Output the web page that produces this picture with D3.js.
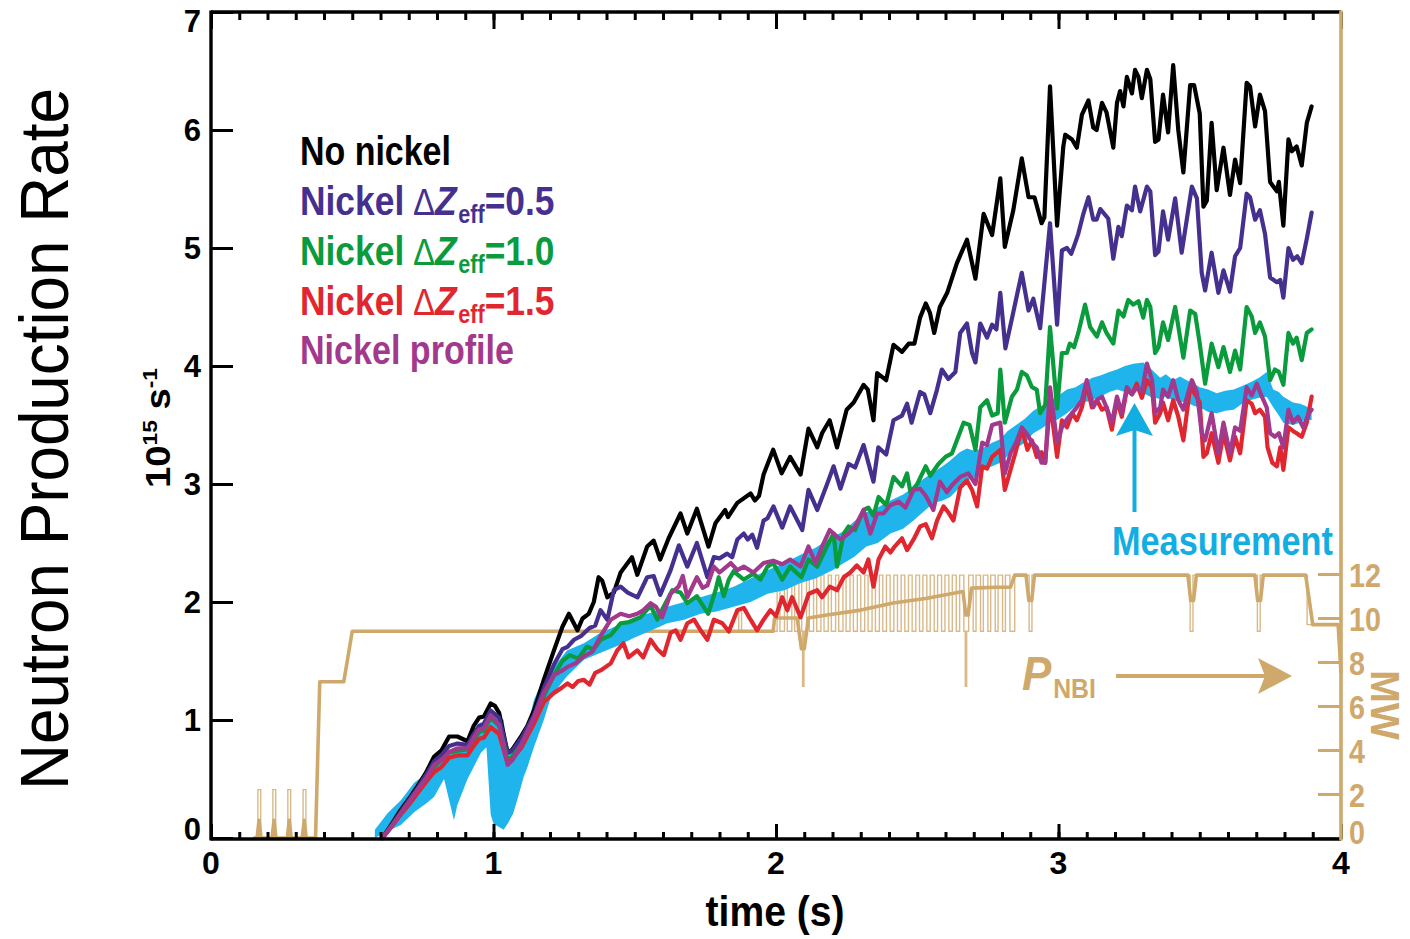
<!DOCTYPE html>
<html>
<head>
<meta charset="utf-8">
<script src="https://cdn.jsdelivr.net/npm/d3@7"></script>
<style>
  html, body { margin: 0; padding: 0; background: #fff; }
  svg { display: block; }
</style>
</head>
<body>
<svg id="chart" width="1410" height="939"></svg>
<script>
// ---------------- data ----------------
const timeTicks = [0, 1, 2, 3, 4];
const rateTicks = [0, 1, 2, 3, 4, 5, 6, 7];
const mwTicks = [0, 2, 4, 6, 8, 10, 12];

const seriesNames = ["No nickel", "Nickel", "Nickel", "Nickel", "Nickel profile"];
const seriesDz = [null, "0.5", "1.0", "1.5", null];

// neutron rate, 10^15 s^-1, [time (s), value]
const noNickel = [[0.607,0.0],[0.64,0.12],[0.672,0.24],[0.70,0.33],[0.731,0.44],[0.76,0.55],[0.79,0.69],[0.815,0.74],[0.843,0.86],[0.872,0.86],[0.908,0.82],[0.93,0.95],[0.949,1.02],[0.966,1.03],[0.99,1.14],[1.005,1.12],[1.02,1.06],[1.05,0.72],[1.067,0.75],[1.10,0.87],[1.12,0.95],[1.143,1.08],[1.178,1.34],[1.214,1.59],[1.244,1.79],[1.267,1.9],[1.297,1.76],[1.315,1.86],[1.337,1.9],[1.355,2.0],[1.372,2.21],[1.385,2.18],[1.403,2.04],[1.426,2.08],[1.45,2.25],[1.49,2.38],[1.509,2.23],[1.544,2.47],[1.567,2.52],[1.59,2.36],[1.62,2.54],[1.662,2.75],[1.686,2.58],[1.72,2.79],[1.761,2.47],[1.786,2.67],[1.82,2.78],[1.83,2.72],[1.863,2.84],[1.91,2.92],[1.925,2.86],[1.94,2.9],[1.956,3.08],[1.99,3.29],[2.02,3.09],[2.05,3.23],[2.087,3.08],[2.115,3.47],[2.146,3.31],[2.163,3.43],[2.19,3.54],[2.216,3.31],[2.25,3.63],[2.275,3.69],[2.31,3.84],[2.325,3.8],[2.345,3.54],[2.358,3.94],[2.39,3.88],[2.416,4.18],[2.446,4.12],[2.47,4.19],[2.49,4.19],[2.51,4.41],[2.53,4.53],[2.545,4.45],[2.56,4.28],[2.58,4.5],[2.606,4.62],[2.64,4.87],[2.676,5.07],[2.706,4.74],[2.735,5.29],[2.765,5.11],[2.794,5.59],[2.81,5.01],[2.84,5.32],[2.87,5.76],[2.894,5.43],[2.915,5.43],[2.94,5.21],[2.95,5.26],[2.97,6.37],[2.995,5.19],[3.017,5.86],[3.024,5.96],[3.048,5.92],[3.065,5.85],[3.083,6.13],[3.106,6.25],[3.123,6.02],[3.135,6.0],[3.154,6.23],[3.17,6.15],[3.194,5.85],[3.207,6.23],[3.218,6.33],[3.23,6.2],[3.242,6.45],[3.26,6.31],[3.271,6.51],[3.283,6.45],[3.295,6.27],[3.313,6.51],[3.325,6.43],[3.342,5.9],[3.354,5.92],[3.37,6.3],[3.388,5.98],[3.406,6.55],[3.424,6.0],[3.442,5.64],[3.466,6.38],[3.48,6.38],[3.5,6.14],[3.513,5.35],[3.525,5.4],[3.542,6.06],[3.56,5.49],[3.584,5.85],[3.607,5.45],[3.625,5.75],[3.643,5.55],[3.666,6.4],[3.678,6.37],[3.696,6.03],[3.713,6.3],[3.731,6.16],[3.749,5.56],[3.773,5.48],[3.78,5.56],[3.796,5.19],[3.814,5.92],[3.826,5.82],[3.843,5.86],[3.861,5.7],[3.879,6.06],[3.896,6.2]];

const nickelDz05 = [[0.607,0.0],[0.64,0.11],[0.672,0.22],[0.70,0.32],[0.731,0.42],[0.76,0.53],[0.79,0.65],[0.815,0.70],[0.843,0.78],[0.872,0.80],[0.908,0.79],[0.93,0.88],[0.949,0.95],[0.966,0.97],[0.99,1.08],[1.02,1.02],[1.05,0.72],[1.067,0.74],[1.10,0.85],[1.143,1.04],[1.178,1.27],[1.214,1.47],[1.244,1.6],[1.262,1.62],[1.285,1.68],[1.309,1.71],[1.34,1.78],[1.36,1.8],[1.379,1.93],[1.403,1.85],[1.426,2.1],[1.45,2.13],[1.475,2.08],[1.51,2.04],[1.544,2.21],[1.567,2.22],[1.59,2.06],[1.627,2.27],[1.656,2.48],[1.686,2.3],[1.72,2.5],[1.757,2.21],[1.78,2.38],[1.80,2.37],[1.827,2.41],[1.845,2.38],[1.863,2.53],[1.886,2.58],[1.90,2.53],[1.916,2.57],[1.933,2.46],[1.956,2.69],[1.97,2.71],[1.991,2.81],[2.022,2.63],[2.05,2.81],[2.093,2.61],[2.115,2.95],[2.146,2.78],[2.181,3.0],[2.204,3.15],[2.228,2.96],[2.257,3.17],[2.28,3.14],[2.31,3.33],[2.345,3.02],[2.362,3.31],[2.39,3.25],[2.416,3.54],[2.446,3.58],[2.464,3.68],[2.48,3.52],[2.51,3.78],[2.525,3.76],[2.546,3.6],[2.57,3.8],[2.587,3.97],[2.61,3.89],[2.635,3.95],[2.652,4.28],[2.676,4.36],[2.694,4.11],[2.706,4.03],[2.723,4.36],[2.747,4.24],[2.765,4.35],[2.78,4.31],[2.794,4.62],[2.812,4.15],[2.835,4.4],[2.87,4.79],[2.894,4.47],[2.911,4.57],[2.935,4.32],[2.97,5.21],[2.995,4.35],[3.012,4.98],[3.03,5.0],[3.045,4.95],[3.06,5.05],[3.07,5.12],[3.088,5.29],[3.106,5.43],[3.123,5.24],[3.135,5.24],[3.148,5.33],[3.176,5.25],[3.194,4.91],[3.212,5.18],[3.224,5.1],[3.242,5.36],[3.26,5.32],[3.271,5.52],[3.289,5.31],[3.313,5.52],[3.325,5.48],[3.342,4.94],[3.354,4.97],[3.37,5.31],[3.388,5.07],[3.413,5.42],[3.436,4.96],[3.472,5.52],[3.49,5.42],[3.507,4.79],[3.519,4.64],[3.542,4.96],[3.566,4.62],[3.584,4.81],[3.607,4.63],[3.625,4.93],[3.643,5.0],[3.666,5.46],[3.678,5.43],[3.696,5.24],[3.713,5.32],[3.731,5.12],[3.749,4.75],[3.773,4.71],[3.785,4.73],[3.796,4.58],[3.814,5.0],[3.83,4.9],[3.845,4.93],[3.861,4.87],[3.879,5.08],[3.896,5.3]];

const nickelDz10 = [[0.607,0.0],[0.64,0.1],[0.672,0.21],[0.70,0.3],[0.731,0.4],[0.76,0.5],[0.79,0.6],[0.815,0.66],[0.843,0.72],[0.872,0.74],[0.908,0.75],[0.93,0.83],[0.949,0.9],[0.966,0.91],[0.99,1.02],[1.02,0.95],[1.05,0.66],[1.067,0.69],[1.10,0.8],[1.143,0.98],[1.178,1.2],[1.214,1.38],[1.244,1.5],[1.27,1.55],[1.3,1.52],[1.33,1.62],[1.355,1.6],[1.379,1.68],[1.415,1.72],[1.45,1.82],[1.48,1.83],[1.52,1.87],[1.556,1.97],[1.58,1.85],[1.60,1.95],[1.633,2.1],[1.662,2.08],[1.686,1.99],[1.72,2.05],[1.76,1.9],[1.786,2.1],[1.797,2.21],[1.815,2.05],[1.833,2.19],[1.85,2.26],[1.886,2.19],[1.92,2.24],[1.945,2.19],[1.97,2.3],[1.99,2.33],[2.022,2.19],[2.05,2.3],[2.09,2.21],[2.115,2.36],[2.146,2.3],[2.186,2.5],[2.204,2.58],[2.216,2.3],[2.24,2.58],[2.257,2.64],[2.28,2.61],[2.31,2.78],[2.327,2.8],[2.345,2.73],[2.363,2.89],[2.39,2.82],[2.416,3.06],[2.446,2.98],[2.464,3.09],[2.476,2.93],[2.5,3.0],[2.53,3.15],[2.546,3.07],[2.575,3.17],[2.6,3.23],[2.623,3.26],[2.664,3.52],[2.685,3.5],[2.706,3.29],[2.723,3.65],[2.747,3.71],[2.765,3.58],[2.785,3.6],[2.794,3.97],[2.81,3.52],[2.835,3.74],[2.853,3.8],[2.87,3.95],[2.888,3.92],[2.906,3.82],[2.923,3.8],[2.935,3.6],[2.953,3.67],[2.97,4.33],[2.995,3.64],[3.012,4.11],[3.03,4.11],[3.04,4.19],[3.055,4.16],[3.07,4.28],[3.094,4.52],[3.112,4.33],[3.136,4.25],[3.154,4.37],[3.17,4.28],[3.194,4.19],[3.212,4.47],[3.23,4.42],[3.247,4.56],[3.265,4.52],[3.283,4.55],[3.3,4.41],[3.313,4.56],[3.325,4.5],[3.342,4.11],[3.354,4.16],[3.37,4.37],[3.388,4.22],[3.413,4.5],[3.442,4.07],[3.466,4.47],[3.484,4.44],[3.5,4.19],[3.519,3.85],[3.542,4.19],[3.566,3.99],[3.584,4.16],[3.607,3.95],[3.625,4.13],[3.643,3.97],[3.666,4.5],[3.684,4.42],[3.696,4.28],[3.713,4.37],[3.731,4.25],[3.749,3.88],[3.766,3.97],[3.78,3.95],[3.796,3.84],[3.814,4.28],[3.83,4.19],[3.843,4.24],[3.861,4.05],[3.879,4.28],[3.896,4.31]];

const nickelDz15 = [[0.607,0.0],[0.64,0.1],[0.672,0.2],[0.70,0.28],[0.731,0.38],[0.76,0.47],[0.79,0.56],[0.815,0.6],[0.843,0.68],[0.872,0.7],[0.908,0.7],[0.93,0.78],[0.949,0.84],[0.966,0.85],[0.99,0.94],[1.02,0.88],[1.05,0.63],[1.067,0.67],[1.10,0.77],[1.143,0.97],[1.178,1.15],[1.2,1.2],[1.214,1.23],[1.24,1.27],[1.262,1.31],[1.28,1.28],[1.3,1.33],[1.32,1.34],[1.34,1.3],[1.36,1.4],[1.379,1.42],[1.415,1.48],[1.438,1.59],[1.46,1.65],[1.478,1.53],[1.509,1.59],[1.53,1.53],[1.556,1.68],[1.58,1.6],[1.603,1.55],[1.627,1.74],[1.645,1.76],[1.662,1.68],[1.686,1.82],[1.71,1.85],[1.733,1.76],[1.757,1.68],[1.78,1.85],[1.81,1.82],[1.833,1.75],[1.863,1.93],[1.886,1.95],[1.91,1.85],[1.933,1.76],[1.956,1.85],[1.98,1.93],[2.0,1.88],[2.022,2.04],[2.04,1.93],[2.057,2.04],[2.087,1.87],[2.116,2.07],[2.146,2.1],[2.163,2.04],[2.19,2.13],[2.216,2.1],[2.24,2.21],[2.263,2.25],[2.286,2.31],[2.31,2.25],[2.327,2.36],[2.345,2.13],[2.363,2.36],[2.387,2.47],[2.405,2.42],[2.42,2.47],[2.446,2.54],[2.464,2.44],[2.487,2.53],[2.51,2.64],[2.53,2.66],[2.552,2.54],[2.57,2.69],[2.593,2.81],[2.61,2.76],[2.628,2.69],[2.652,2.97],[2.676,3.03],[2.694,2.95],[2.712,2.81],[2.73,3.15],[2.747,3.13],[2.765,3.23],[2.794,3.29],[2.81,2.95],[2.83,3.12],[2.848,3.27],[2.87,3.47],[2.89,3.29],[2.906,3.37],[2.923,3.23],[2.94,3.27],[2.953,3.18],[2.97,3.71],[2.995,3.23],[3.012,3.54],[3.03,3.48],[3.048,3.6],[3.065,3.54],[3.083,3.65],[3.1,3.85],[3.118,3.65],[3.136,3.71],[3.154,3.63],[3.17,3.65],[3.189,3.46],[3.207,3.71],[3.224,3.57],[3.242,3.8],[3.26,3.76],[3.277,3.85],[3.295,3.73],[3.313,3.88],[3.331,3.82],[3.342,3.52],[3.36,3.6],[3.37,3.69],[3.388,3.54],[3.406,3.71],[3.424,3.57],[3.442,3.37],[3.466,3.82],[3.484,3.76],[3.5,3.69],[3.513,3.23],[3.525,3.26],[3.542,3.43],[3.566,3.18],[3.584,3.43],[3.607,3.2],[3.625,3.4],[3.643,3.26],[3.666,3.71],[3.684,3.68],[3.696,3.6],[3.713,3.63],[3.731,3.57],[3.74,3.31],[3.757,3.18],[3.773,3.15],[3.785,3.31],[3.796,3.12],[3.814,3.48],[3.83,3.45],[3.843,3.43],[3.861,3.4],[3.879,3.52],[3.896,3.74]];

const nickelProfile = [[0.607,0.0],[0.64,0.1],[0.672,0.21],[0.70,0.3],[0.731,0.41],[0.76,0.5],[0.79,0.62],[0.815,0.66],[0.843,0.73],[0.872,0.76],[0.908,0.76],[0.93,0.85],[0.949,0.92],[0.966,0.93],[0.99,1.04],[1.02,0.96],[1.05,0.62],[1.067,0.66],[1.10,0.8],[1.143,1.02],[1.178,1.23],[1.214,1.38],[1.244,1.42],[1.262,1.45],[1.29,1.48],[1.32,1.54],[1.35,1.58],[1.379,1.71],[1.415,1.85],[1.45,1.9],[1.48,1.88],[1.509,1.9],[1.53,1.93],[1.556,1.99],[1.575,1.96],[1.597,1.87],[1.627,2.07],[1.655,2.13],[1.67,2.22],[1.686,2.04],[1.72,2.21],[1.74,2.12],[1.757,2.14],[1.78,2.3],[1.80,2.25],[1.84,2.33],[1.863,2.27],[1.886,2.3],[1.92,2.25],[1.956,2.33],[1.99,2.35],[2.022,2.32],[2.05,2.36],[2.087,2.3],[2.115,2.47],[2.14,2.33],[2.163,2.47],[2.19,2.61],[2.228,2.53],[2.257,2.58],[2.28,2.64],[2.31,2.78],[2.334,2.58],[2.358,2.75],[2.38,2.75],[2.405,2.82],[2.434,2.85],[2.458,2.8],[2.487,2.95],[2.51,2.96],[2.53,2.9],[2.557,2.78],[2.58,3.02],[2.605,2.93],[2.623,2.99],[2.652,3.06],[2.681,3.09],[2.706,3.0],[2.73,3.35],[2.747,3.33],[2.765,3.5],[2.794,3.52],[2.81,3.09],[2.83,3.26],[2.853,3.37],[2.87,3.48],[2.89,3.42],[2.906,3.35],[2.923,3.31],[2.94,3.18],[2.953,3.18],[2.97,3.82],[2.995,3.35],[3.012,3.48],[3.03,3.55],[3.048,3.6],[3.065,3.65],[3.083,3.71],[3.1,3.88],[3.123,3.65],[3.14,3.72],[3.154,3.74],[3.17,3.65],[3.189,3.52],[3.207,3.74],[3.224,3.6],[3.242,3.82],[3.26,3.76],[3.277,3.82],[3.295,3.78],[3.313,4.02],[3.331,3.88],[3.342,3.6],[3.36,3.65],[3.37,3.8],[3.388,3.74],[3.406,3.88],[3.424,3.71],[3.442,3.63],[3.472,3.88],[3.49,3.78],[3.507,3.43],[3.519,3.37],[3.542,3.6],[3.566,3.26],[3.584,3.52],[3.607,3.26],[3.625,3.48],[3.643,3.45],[3.666,3.82],[3.684,3.75],[3.702,3.85],[3.72,3.74],[3.737,3.65],[3.749,3.43],[3.766,3.4],[3.78,3.43],[3.796,3.31],[3.814,3.63],[3.83,3.52],[3.848,3.57],[3.866,3.48],[3.886,3.6],[3.896,3.63]];

// measured neutron rate: time, lower bound, upper bound
const measT  = [0.58,0.625,0.672,0.72,0.766,0.79,0.813,0.825,0.845,0.86,0.872,0.908,0.955,0.975,0.99,1.0,1.036,1.05,1.07,1.085,1.107,1.12,1.143,1.178,1.2,1.214,1.26,1.32,1.379,1.44,1.5,1.56,1.615,1.675,1.733,1.79,1.85,1.91,1.97,2.03,2.087,2.14,2.2,2.24,2.275,2.32,2.36,2.405,2.45,2.487,2.52,2.557,2.59,2.617,2.65,2.676,2.705,2.735,2.765,2.794,2.82,2.85,2.88,2.911,2.94,2.97,3.0,3.03,3.06,3.088,3.12,3.148,3.18,3.207,3.235,3.265,3.3,3.325,3.36,3.38,3.406,3.43,3.454,3.48,3.5,3.53,3.56,3.59,3.62,3.65,3.678,3.71,3.737,3.76,3.78,3.796,3.83,3.855,3.875,3.896];
const measLo = [0.0,0.06,0.11,0.22,0.3,0.35,0.45,0.5,0.3,0.15,0.28,0.5,0.72,0.77,0.2,0.12,0.07,0.12,0.21,0.33,0.52,0.6,0.77,1.0,1.17,1.23,1.37,1.51,1.57,1.63,1.7,1.76,1.82,1.85,1.9,1.92,1.96,2.0,2.07,2.1,2.16,2.2,2.27,2.33,2.38,2.47,2.5,2.58,2.62,2.69,2.76,2.84,2.86,2.89,2.97,3.03,3.06,3.12,3.15,3.18,3.24,3.3,3.35,3.43,3.47,3.52,3.55,3.6,3.66,3.69,3.71,3.74,3.78,3.8,3.78,3.8,3.77,3.74,3.72,3.74,3.71,3.7,3.69,3.66,3.65,3.61,3.6,3.62,3.63,3.68,3.71,3.73,3.74,3.65,3.58,3.52,3.5,3.52,3.55,3.54];
const measHi = [0.07,0.21,0.32,0.47,0.55,0.6,0.66,0.68,0.7,0.72,0.74,0.83,0.94,1.0,1.05,1.08,1.0,0.69,0.74,0.77,0.88,0.94,1.17,1.36,1.41,1.45,1.59,1.65,1.74,1.8,1.87,1.91,1.96,2.0,2.04,2.08,2.13,2.2,2.27,2.33,2.4,2.46,2.55,2.6,2.68,2.76,2.8,2.86,2.91,2.97,3.04,3.1,3.15,3.2,3.27,3.3,3.28,3.31,3.35,3.38,3.45,3.5,3.55,3.62,3.66,3.7,3.75,3.8,3.82,3.86,3.9,3.92,3.95,3.97,4.0,4.02,4.03,3.98,3.9,3.93,3.88,3.91,3.88,3.85,3.82,3.8,3.77,3.79,3.8,3.83,3.86,3.9,3.95,3.8,3.78,3.74,3.69,3.68,3.66,3.63];

// neutral beam power (MW): averaged trace [time, MW]
const nbiAvg = [[0.15,0],[0.163,0],[0.17,0.8],[0.177,0],[0.216,0],[0.223,0.8],[0.23,0],[0.27,0],[0.277,0.8],[0.284,0],[0.323,0],[0.33,0.8],[0.337,0],[0.37,0],[0.385,7.1],[0.47,7.1],[0.5,9.4],[1.99,9.4],[1.995,10.0],[2.075,10.0],[2.09,8.6],[2.1,8.6],[2.115,10.0],[2.18,10.14],[2.3,10.36],[2.415,10.68],[2.535,10.9],[2.652,11.18],[2.662,11.2],[2.672,10.14],[2.68,10.14],[2.692,11.36],[2.78,11.4],[2.83,11.4],[2.845,11.95],[2.885,11.95],[2.895,10.8],[2.905,10.8],[2.915,11.95],[3.458,11.95],[3.468,10.8],[3.478,10.8],[3.488,11.95],[3.695,11.95],[3.705,10.8],[3.715,10.8],[3.725,11.95],[3.875,11.95],[3.9,9.7],[3.99,9.7],[4.0,7.5]];

// raw beam power trace: switching times of the sources and the power levels
const nbiEarlyOn  = [0.166,0.219,0.272,0.326];
const nbiEarlyOff = [0.176,0.229,0.282,0.336];
const nbiModOn  = [2.004,2.030,2.056,2.081,2.108,2.133,2.159,2.185,2.211,2.237,2.262,2.288,2.314,2.340,2.366,2.391,2.417,2.443,2.469,2.495,2.520,2.546,2.572,2.598,2.624,2.650,2.682,2.708,2.734,2.760,2.786,2.812];
const nbiModOff = [2.014,2.040,2.066,2.091,2.118,2.144,2.170,2.196,2.222,2.248,2.274,2.300,2.326,2.352,2.378,2.404,2.430,2.456,2.482,2.508,2.534,2.560,2.586,2.612,2.638,2.665,2.698,2.724,2.750,2.776,2.802,2.828];
const nbiDropT = [2.094, 2.670];            // short deep drops in the modulated phase
const nbiGapOn = [2.896, 3.466, 3.704];      // short gaps at full power
const nbiLevels = { early: 2.2, step: 7.1, low: 9.4, high: 11.95, drop: 6.9, end: 9.7, bump: 10.4 };

// ---------------- drawing ----------------
const svg = d3.select("#chart");
const TAN = "#cfa86b";
const CYAN = "#1fb5ec";
const CYAN_TXT = "#12aee2";
const colors = ["#000000", "#46308f", "#0a9b3c", "#e0262f", "#a3398d"];
const SANS = "'Liberation Sans', Arial, Helvetica, sans-serif";

const x = d3.scaleLinear().domain([0, 4]).range([211, 1341]);
const y = d3.scaleLinear().domain([0, 7]).range([838, 12]);
const yMW = d3.scaleLinear().domain([0, 37.55]).range([838, 12]);

// squeeze a text horizontally so that its advance equals `width` (condensed face look)
function fitText(sel, tx, ty, width, rotate) {
  const w = sel.node().getComputedTextLength();
  const s = width / w;
  sel.attr("x", 0).attr("y", 0)
    .attr("transform", `translate(${tx},${ty})${rotate ? ` rotate(${rotate})` : ""} scale(${s},1)`);
  return sel;
}

// raw beam trace assembled from the switching tables
const L = nbiLevels;
const early = [[0.15, 0]];
nbiEarlyOn.forEach((t, i) => {
  early.push([t, 0], [t, L.early], [nbiEarlyOff[i], L.early], [nbiEarlyOff[i], 0]);
});
early.push([0.37, 0], [0.385, L.step], [0.47, L.step], [0.5, L.low]);
const mid = [[1.868, L.low], [1.868, L.bump], [1.878, L.bump], [1.878, L.low], [1.995, L.low]];
const mod = [];
const drops = nbiDropT.slice();
nbiModOn.forEach((t, i) => {
  if (drops.length && drops[0] < t) {
    const d = drops.shift();
    mod.push([d, L.low], [d, L.drop], [d + 0.005, L.drop], [d + 0.005, L.low]);
  }
  mod.push([t, L.low], [t, L.high], [nbiModOff[i], L.high], [nbiModOff[i], L.low]);
});
mod.push([2.845, L.low], [2.845, L.high]);
const late = [];
nbiGapOn.forEach(t => {
  late.push([t, L.high], [t, L.low], [t + 0.01, L.low], [t + 0.01, L.high]);
});
late.push([3.88, L.high], [3.88, L.end], [4.0, L.end]);
const nbiTrace = early.concat(mid, mod, late);

const lineMW = d3.line().x(d => x(d[0])).y(d => yMW(d[1]));
const lineRate = d3.line().x(d => x(d[0])).y(d => y(d[1]));

// beam power traces
svg.append("path").attr("d", lineMW(nbiTrace))
  .attr("fill", "none").attr("stroke", TAN).attr("stroke-width", 1.4).attr("stroke-opacity", 0.8);
svg.append("path").attr("d", lineMW(nbiAvg))
  .attr("fill", "none").attr("stroke", TAN).attr("stroke-width", 3.6).attr("stroke-linejoin", "round");

// measurement band
const band = measT.map((t, i) => ({ t, lo: measLo[i], hi: measHi[i] }));
svg.append("path")
  .attr("d", d3.area().x(d => x(d.t)).y0(d => y(d.lo)).y1(d => y(d.hi))(band))
  .attr("fill", CYAN);

// simulated rates
const series = [noNickel, nickelDz05, nickelDz10, nickelDz15, nickelProfile];
series.forEach((s, i) => {
  svg.append("path").attr("d", lineRate(s))
    .attr("fill", "none").attr("stroke", colors[i])
    .attr("stroke-width", 4.2).attr("stroke-linejoin", "round").attr("stroke-linecap", "round");
});

// ---------------- axes ----------------
function styleAxis(g, color, width) {
  g.select(".domain").remove();
  g.selectAll(".tick line").attr("stroke", color).attr("stroke-width", width);
  g.selectAll(".tick text").remove();
}
const minorTimes = d3.range(0, 40.5, 1).map(v => v / 10);

// top: ticks pointing down
svg.append("g").attr("transform", `translate(0,${y(7)})`)
  .call(d3.axisBottom(x).tickValues(minorTimes).tickSize(8)).call(g => styleAxis(g, "#000", 3));
svg.append("g").attr("transform", `translate(0,${y(7)})`)
  .call(d3.axisBottom(x).tickValues(timeTicks).tickSize(17)).call(g => styleAxis(g, "#000", 3));
// bottom: ticks pointing up
svg.append("g").attr("transform", `translate(0,${y(0) + 1})`)
  .call(d3.axisTop(x).tickValues(minorTimes).tickSize(7)).call(g => styleAxis(g, "#000", 3));
svg.append("g").attr("transform", `translate(0,${y(0) + 1})`)
  .call(d3.axisTop(x).tickValues(timeTicks).tickSize(15)).call(g => styleAxis(g, "#000", 3));
// left: ticks pointing right
svg.append("g").attr("transform", `translate(${x(0)},0)`)
  .call(d3.axisRight(y).tickValues(rateTicks).tickSize(22)).call(g => styleAxis(g, "#000", 3));
// right: beam power axis, ticks pointing left
svg.append("g").attr("transform", `translate(${x(4)},0)`)
  .call(d3.axisLeft(yMW).tickValues(mwTicks).tickSize(23)).call(g => styleAxis(g, TAN, 3));

// frame
svg.append("line").attr("x1", x(0)).attr("x2", x(4)).attr("y1", y(7)).attr("y2", y(7)).attr("stroke", "#000").attr("stroke-width", 3.4);
svg.append("line").attr("x1", x(0)).attr("x2", x(4)).attr("y1", y(0) + 1).attr("y2", y(0) + 1).attr("stroke", "#000").attr("stroke-width", 3.4);
svg.append("line").attr("x1", x(0)).attr("x2", x(0)).attr("y1", y(7) - 1.5).attr("y2", y(0) + 2.5).attr("stroke", "#000").attr("stroke-width", 3.4);
svg.append("line").attr("x1", x(4)).attr("x2", x(4)).attr("y1", y(7) - 1.5).attr("y2", y(0) + 2.5).attr("stroke", TAN).attr("stroke-width", 3.6);

// tick labels
svg.append("g").selectAll("text").data(timeTicks).join("text")
  .attr("x", d => x(d)).attr("y", 874).attr("text-anchor", "middle")
  .attr("font-family", SANS).attr("font-weight", "bold").attr("font-size", 32).text(d => d);
svg.append("g").selectAll("text").data(rateTicks).join("text")
  .attr("x", 201).attr("y", d => Math.min(Math.max(y(d), 21), 829) + 11).attr("text-anchor", "end")
  .attr("font-family", SANS).attr("font-weight", "bold").attr("font-size", 31).text(d => d);
svg.append("g").selectAll("text").data(mwTicks).join("text")
  .attr("fill", TAN).attr("font-family", SANS).attr("font-weight", "bold").attr("font-size", 33)
  .text(d => d)
  .each(function (d) {
    fitText(d3.select(this), 1349, Math.min(yMW(d) + 1, 832) + 12, String(d).length * 16);
  });

// axis titles
fitText(svg.append("text").attr("text-anchor", "middle").attr("font-family", SANS).attr("font-size", 69)
  .text("Neutron Production Rate"), 68, 439, 702, -90);

const unit = svg.append("text").attr("text-anchor", "middle").attr("font-family", SANS)
  .attr("font-weight", "bold").attr("font-size", 35);
unit.append("tspan").text("10");
unit.append("tspan").attr("font-size", 21).attr("dy", -13).text("15");
unit.append("tspan").attr("dy", 13).text(" s");
unit.append("tspan").attr("font-size", 21).attr("dy", -13).text("-1");
fitText(unit, 170, 428, 120, -90);

fitText(svg.append("text").attr("text-anchor", "middle").attr("font-family", SANS)
  .attr("font-weight", "bold").attr("font-size", 43).text("time (s)"), 775, 926, 139);

fitText(svg.append("text").attr("text-anchor", "middle").attr("fill", TAN).attr("font-family", SANS)
  .attr("font-weight", "bold").attr("font-size", 41).text("MW"), 1371, 705, 70, 90);

// legend
const legendBase = [165, 215, 265, 315, 364];
const legendWidth = [151, 252, 252, 252, 214];
seriesNames.forEach((name, i) => {
  const t = svg.append("text").attr("fill", colors[i]).attr("font-family", SANS)
    .attr("font-weight", "bold").attr("font-size", 41);
  if (seriesDz[i] === null) {
    t.text(name);
  } else {
    t.append("tspan").text(name + " ");
    t.append("tspan").attr("font-weight", "normal").attr("font-size", 38).text("\u2206");
    t.append("tspan").attr("font-style", "italic").attr("dx", 1).text("Z");
    t.append("tspan").attr("font-size", 25).attr("dy", 8).attr("dx", 2).text("eff");
    t.append("tspan").attr("dy", -8).text("=" + seriesDz[i]);
  }
  fitText(t, 300, legendBase[i], legendWidth[i]);
});

// measurement annotation
fitText(svg.append("text").attr("fill", CYAN_TXT).attr("font-family", SANS).attr("font-weight", "bold")
  .attr("font-size", 41).text("Measurement"), 1112, 555, 221);
svg.append("line").attr("x1", 1134.5).attr("x2", 1134.5).attr("y1", 512).attr("y2", 430)
  .attr("stroke", CYAN_TXT).attr("stroke-width", 4);
svg.append("path").attr("d", "M1134.5,403 L1153,436 L1134.5,430 L1116,436 Z").attr("fill", CYAN_TXT);

// beam power annotation
const pn = svg.append("text").attr("fill", TAN).attr("font-family", SANS).attr("font-weight", "bold");
pn.append("tspan").attr("font-style", "italic").attr("font-size", 48).text("P");
pn.append("tspan").attr("font-size", 27).attr("dy", 8).attr("dx", 2).text("NBI");
fitText(pn, 1022, 690, 72);
svg.append("line").attr("x1", 1116).attr("x2", 1266).attr("y1", 676).attr("y2", 676)
  .attr("stroke", TAN).attr("stroke-width", 4);
svg.append("path").attr("d", "M1292,676 L1258,658 L1265,676 L1258,694 Z").attr("fill", TAN);
</script>
</body>
</html>
